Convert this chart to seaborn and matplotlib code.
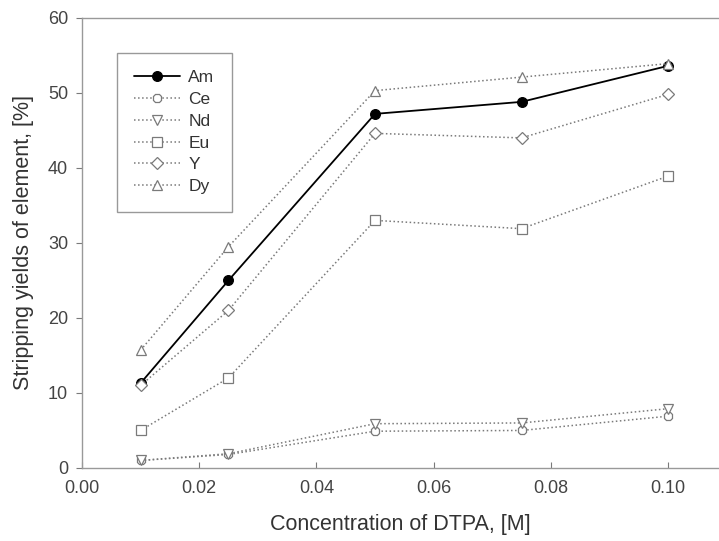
import pandas as pd
import matplotlib
matplotlib.use("Agg")
import matplotlib.pyplot as plt
import seaborn as sns

# concentration of DTPA [M]
conc = [0.01, 0.025, 0.05, 0.075, 0.10]

# stripping yields [%]
am = [11.3, 25.0, 47.2, 48.8, 53.6]
ce = [1.0, 1.8, 4.9, 5.0, 6.9]
nd = [1.0, 1.9, 5.9, 6.0, 7.9]
eu = [5.0, 12.0, 33.0, 31.9, 38.9]
y_el = [11.0, 21.0, 44.6, 44.0, 49.8]
dy = [15.7, 29.5, 50.3, 52.1, 53.9]

sns.set_style("ticks")
plt.rcParams["font.family"] = ["Liberation Sans", "DejaVu Sans"]

fig = plt.figure(figsize=(7.19, 5.41), dpi=100)
ax = fig.add_axes([0.114, 0.135, 0.886, 0.832])

grey = "#7a7a7a"
series = [
    ("Am", am, "o", "-", "black", "black"),
    ("Ce", ce, "8", ":", grey, "white"),
    ("Nd", nd, "v", ":", grey, "white"),
    ("Eu", eu, "s", ":", grey, "white"),
    ("Y", y_el, "D", ":", grey, "white"),
    ("Dy", dy, "^", ":", grey, "white"),
]

for name, vals, mk, ls, col, fc in series:
    df = pd.DataFrame({"x": conc, "y": vals})
    sns.lineplot(data=df, x="x", y="y", ax=ax, label=name, marker=mk,
                 linestyle=ls, color=col, markerfacecolor=fc,
                 markeredgecolor=col, markersize=7 if mk != "D" else 6,
                 linewidth=1.3 if name == "Am" else 1.1, markeredgewidth=0.9)

ax.set_xlim(0, 0.1087)
ax.set_ylim(0, 60)
ax.set_xticks([0.00, 0.02, 0.04, 0.06, 0.08, 0.10])
ax.set_xticklabels(["0.00", "0.02", "0.04", "0.06", "0.08", "0.10"])
ax.set_yticks(range(0, 61, 10))
ax.set_xlabel("Concentration of DTPA, [M]", fontsize=15.5, color="#333333", labelpad=12)
ax.set_ylabel("Stripping yields of element, [%]", fontsize=15.5, color="#333333", labelpad=10)

ax.tick_params(axis="x", direction="in", length=4, color=grey, labelsize=13,
               labelcolor="#444444", pad=9)
ax.tick_params(axis="y", direction="out", length=4, color=grey, labelsize=13,
               labelcolor="#444444", pad=6)
for side in ["left", "bottom", "top"]:
    ax.spines[side].set_color("#999999")
    ax.spines[side].set_linewidth(1.0)
ax.spines["right"].set_visible(False)

leg = ax.legend(loc="upper left", bbox_to_anchor=(0.055, 0.922), fontsize=12.5,
                fancybox=False, framealpha=1, edgecolor="#999999",
                borderpad=1.0, labelspacing=0.38, handlelength=2.6,
                handletextpad=0.5, borderaxespad=0)
for t in leg.get_texts():
    t.set_color("#333333")

fig.savefig("out.png", dpi=100)
